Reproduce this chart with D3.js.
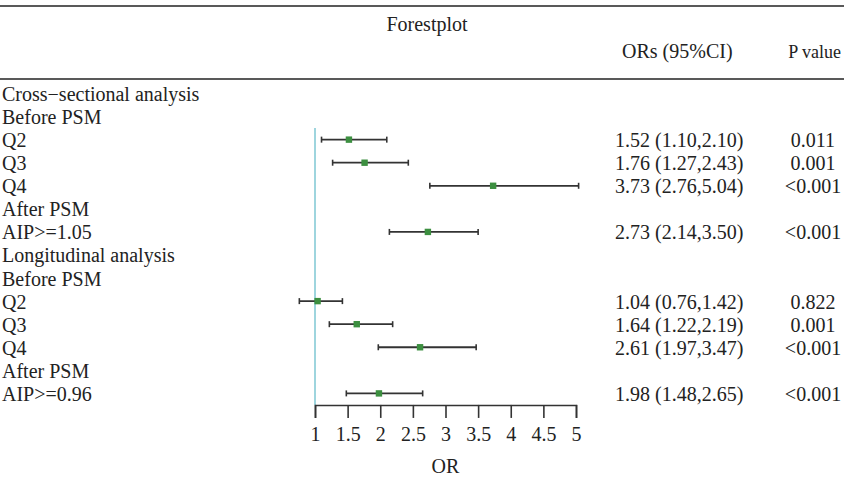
<!DOCTYPE html>
<html>
<head>
<meta charset="utf-8">
<script src="https://cdn.jsdelivr.net/npm/d3@7"></script>
<style>
  body { margin: 0; background: #fff; }
  svg text { font-family: "Liberation Serif", "Times New Roman", serif; fill: #222; }
</style>
</head>
<body>
<div id="chart"></div>
<script>
// rows of the forest plot, top to bottom
const rowLabels = ["Cross\u2212sectional analysis", "Before PSM", "Q2", "Q3", "Q4", "After PSM", "AIP>=1.05",
  "Longitudinal analysis", "Before PSM", "Q2", "Q3", "Q4", "After PSM", "AIP>=0.96"];
const orValues = [null, null, 1.52, 1.76, 3.73, null, 2.73, null, null, 1.04, 1.64, 2.61, null, 1.98];
const ciLower  = [null, null, 1.10, 1.27, 2.76, null, 2.14, null, null, 0.76, 1.22, 1.97, null, 1.48];
const ciUpper  = [null, null, 2.10, 2.43, 5.04, null, 3.50, null, null, 1.42, 2.19, 3.47, null, 2.65];
const orText   = [null, null, "1.52 (1.10,2.10)", "1.76 (1.27,2.43)", "3.73 (2.76,5.04)", null, "2.73 (2.14,3.50)",
  null, null, "1.04 (0.76,1.42)", "1.64 (1.22,2.19)", "2.61 (1.97,3.47)", null, "1.98 (1.48,2.65)"];
const pText    = [null, null, "0.011", "0.001", "<0.001", null, "<0.001",
  null, null, "0.822", "0.001", "<0.001", null, "<0.001"];
const xTicks = [1, 1.5, 2, 2.5, 3, 3.5, 4, 4.5, 5];

const W = 844, H = 487;
const FONT = 20;
const LINE_COL = "#333";
const BOX_COL = "#3c8f40";
const REF_COL = "#86cbd6";

const svg = d3.select("#chart").append("svg")
  .attr("width", W)
  .attr("height", H);

const x = d3.scaleLinear().domain([1, 5]).range([315, 576]);
const y = d3.scaleLinear().domain([0, rowLabels.length - 1]).range([93.5, 393.4]);
const axisY = y(rowLabels.length - 0.5);
const BASE = 7.5; // text baseline below row centre

// horizontal rules
svg.append("line").attr("x1", 0).attr("x2", W).attr("y1", 6).attr("y2", 6)
  .attr("stroke", "#222").attr("stroke-width", 1.6);
svg.append("line").attr("x1", 0).attr("x2", W).attr("y1", 79).attr("y2", 79)
  .attr("stroke", "#222").attr("stroke-width", 1.6);

// headers
svg.append("text").attr("x", 427).attr("y", 31).attr("text-anchor", "middle")
  .style("font-size", FONT + "px").text("Forestplot");
svg.append("text").attr("x", 622).attr("y", 58)
  .style("font-size", FONT + "px").text("ORs (95%CI)");
svg.append("text").attr("x", 841).attr("y", 58).attr("text-anchor", "end")
  .style("font-size", "18px").text("P value");

// left labels
svg.selectAll(".lab").data(rowLabels).enter().append("text")
  .attr("class", "lab")
  .attr("x", 2)
  .attr("y", (d, i) => y(i) + BASE)
  .style("font-size", FONT + "px")
  .text(d => d);

const idx = d3.range(rowLabels.length).filter(i => orValues[i] != null);

// OR and p value columns
svg.selectAll(".ortxt").data(idx).enter().append("text")
  .attr("class", "ortxt")
  .attr("x", 615)
  .attr("y", i => y(i) + BASE)
  .style("font-size", FONT + "px")
  .text(i => orText[i]);

svg.selectAll(".ptxt").data(idx).enter().append("text")
  .attr("class", "ptxt")
  .attr("x", 813)
  .attr("y", i => y(i) + BASE)
  .attr("text-anchor", "middle")
  .style("font-size", FONT + "px")
  .text(i => pText[i]);

// reference line at OR = 1
svg.append("line")
  .attr("x1", x(1)).attr("x2", x(1))
  .attr("y1", y(1.5)).attr("y2", axisY)
  .attr("stroke", REF_COL).attr("stroke-width", 1.6);

// confidence intervals
const ci = svg.selectAll(".ci").data(idx).enter().append("g").attr("class", "ci");
ci.append("line")
  .attr("x1", i => x(ciLower[i])).attr("x2", i => x(ciUpper[i]))
  .attr("y1", i => y(i)).attr("y2", i => y(i))
  .attr("stroke", LINE_COL).attr("stroke-width", 1.8);
ci.append("line")
  .attr("x1", i => x(ciLower[i])).attr("x2", i => x(ciLower[i]))
  .attr("y1", i => y(i) - 3).attr("y2", i => y(i) + 3)
  .attr("stroke", LINE_COL).attr("stroke-width", 1.6);
ci.append("line")
  .attr("x1", i => x(ciUpper[i])).attr("x2", i => x(ciUpper[i]))
  .attr("y1", i => y(i) - 3).attr("y2", i => y(i) + 3)
  .attr("stroke", LINE_COL).attr("stroke-width", 1.6);
ci.append("rect")
  .attr("x", i => x(orValues[i]) - 3.2)
  .attr("y", i => y(i) - 3.2)
  .attr("width", 6.4).attr("height", 6.4)
  .attr("fill", BOX_COL);

// x axis
const axis = svg.append("g")
  .attr("transform", "translate(0," + axisY + ")")
  .call(d3.axisBottom(x).tickValues(xTicks).tickSize(13).tickPadding(9).tickFormat(d3.format("")));
axis.select(".domain").attr("stroke", LINE_COL).attr("stroke-width", 1.6);
axis.selectAll(".tick line").attr("stroke", LINE_COL).attr("stroke-width", 1.6);
axis.selectAll(".tick text")
  .style("font-size", FONT + "px")
  .style("font-family", "Liberation Serif, serif")
  .attr("fill", "#222");

svg.append("text").attr("x", (x(1) + x(5)) / 2).attr("y", 473).attr("text-anchor", "middle")
  .style("font-size", FONT + "px").text("OR");
</script>
</body>
</html>
